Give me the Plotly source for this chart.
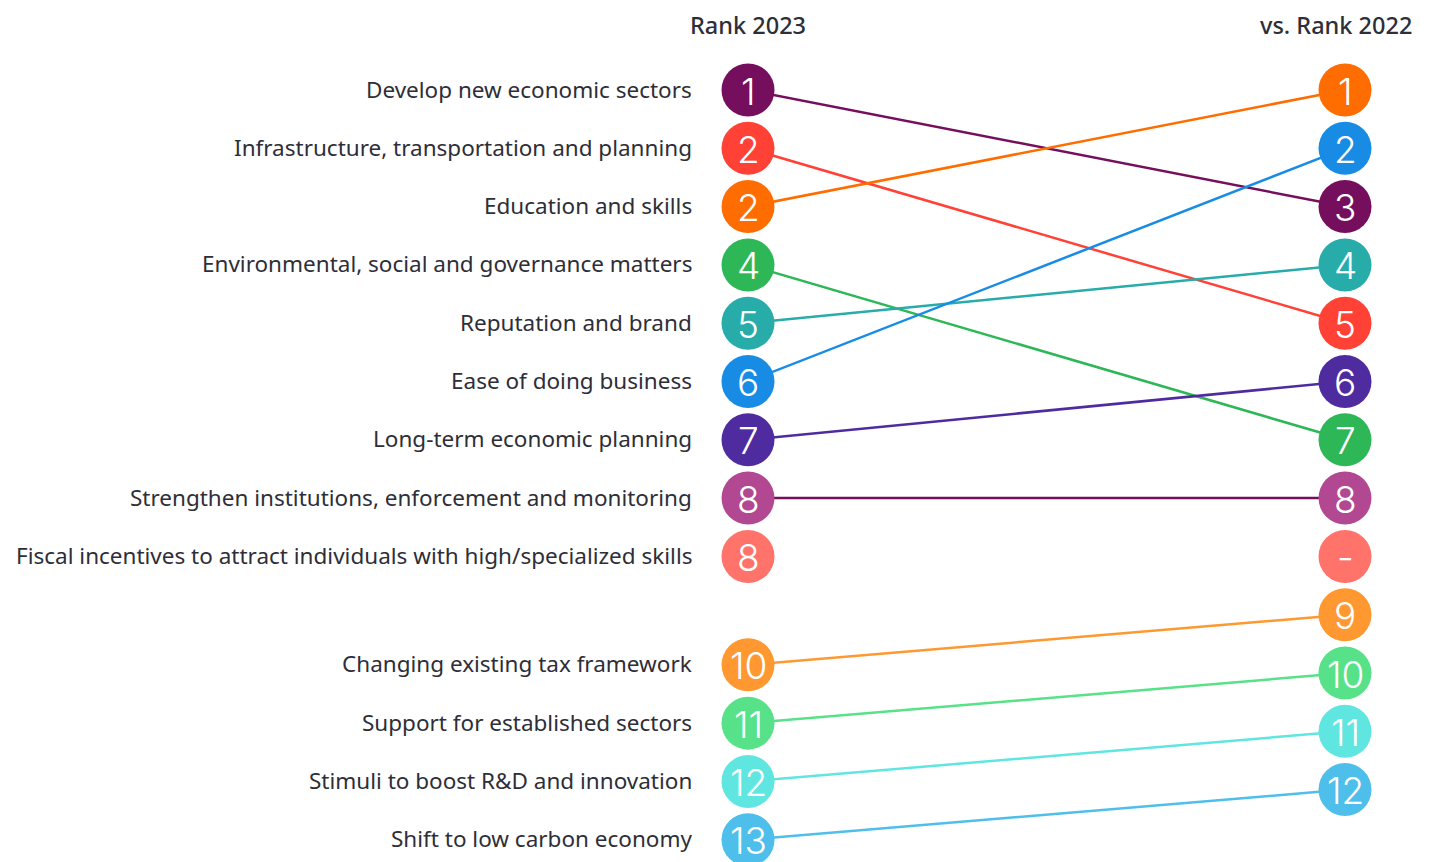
import plotly.graph_objects as go

categories = [
    "Develop new economic sectors",
    "Infrastructure, transportation and planning",
    "Education and skills",
    "Environmental, social and governance matters",
    "Reputation and brand",
    "Ease of doing business",
    "Long-term economic planning",
    "Strengthen institutions, enforcement and monitoring",
    "Fiscal incentives to attract individuals with high/specialized skills",
    "Changing existing tax framework",
    "Support for established sectors",
    "Stimuli to boost R&D and innovation",
    "Shift to low carbon economy",
]
rank_2023 = [1, 2, 2, 4, 5, 6, 7, 8, 8, 10, 11, 12, 13]
rank_2022 = [3, 5, 1, 7, 4, 2, 6, 8, None, 9, 10, 11, 12]

colors = ["#750E5C", "#FF4136", "#FF6D00", "#2DB757", "#27ACAA", "#188CE5",
          "#4F2BA0", "#B14891", "#FF736A", "#FF9831", "#57E188", "#60E6E1", "#4EBEEB"]
line_colors = colors[:7] + ["#750E5C"] + colors[8:]

# layout helpers (page has an 8px body margin, so axes are shifted by it)
OFF = 8
X_LEFT, X_RIGHT, X_LABEL = 748, 1345, 694
GAP = 0.86  # extra space on the left after the unranked row
ROW = 58.3
TOP = 90
TXT = "#2E2E38"

n = len(categories)
left_y = [i if i <= 8 else i + GAP for i in range(n)]
key = [r if r is not None else 8.5 for r in rank_2022]
order = sorted(range(n), key=lambda i: key[i])
right_y = [0] * n
for slot, i in enumerate(order):
    right_y[i] = slot

fig = go.Figure()

# connecting lines
for i in range(n):
    if rank_2022[i] is None:
        continue
    fig.add_trace(go.Scatter(
        x=[X_LEFT, X_RIGHT], y=[left_y[i], right_y[i]], mode="lines",
        line=dict(color=line_colors[i], width=2.5), hoverinfo="skip", showlegend=False))

num_font = dict(family="Inter", size=37, color="white", weight=300)

fig.add_trace(go.Scatter(
    x=[X_LEFT] * n, y=left_y, mode="markers",
    marker=dict(size=53, color=colors, line=dict(width=0)),
    hovertext=categories, showlegend=False))
fig.add_trace(go.Scatter(
    x=[X_RIGHT] * n, y=right_y, mode="markers",
    marker=dict(size=53, color=colors, line=dict(width=0)),
    hovertext=categories, showlegend=False))

for i in range(n):
    fig.add_annotation(x=X_LABEL, y=left_y[i], text=categories[i], showarrow=False,
                       xanchor="right", yanchor="middle", yshift=1,
                       font=dict(family="Noto Sans", size=22.5, color=TXT))
    fig.add_annotation(x=X_LEFT, y=left_y[i], text=str(rank_2023[i]), showarrow=False,
                       xanchor="center", yanchor="middle", yshift=-1, font=num_font)
    r = rank_2022[i]
    fig.add_annotation(x=X_RIGHT, y=right_y[i], text=str(r) if r is not None else "-",
                       showarrow=False, xanchor="center", yanchor="middle", yshift=-1,
                       font=num_font)

fig.add_annotation(x=X_LEFT, y=-1.12, text="Rank 2023", showarrow=False,
                   xanchor="center", yanchor="middle",
                   font=dict(family="Noto Sans", size=23.5, color=TXT, weight=500))
fig.add_annotation(x=1414, y=-1.12, text="vs. Rank 2022", showarrow=False,
                   xanchor="right", yanchor="middle",
                   font=dict(family="Noto Sans", size=23.5, color=TXT, weight=500))

fig.update_layout(
    width=1430, height=862,
    margin=dict(l=0, r=0, t=0, b=0),
    paper_bgcolor="white", plot_bgcolor="white",
    xaxis=dict(range=[OFF, 1430 + OFF], visible=False, fixedrange=True),
    yaxis=dict(range=[(862 + OFF - TOP) / ROW, (OFF - TOP) / ROW], visible=False, fixedrange=True),
)

fig.write_html("out.html")
